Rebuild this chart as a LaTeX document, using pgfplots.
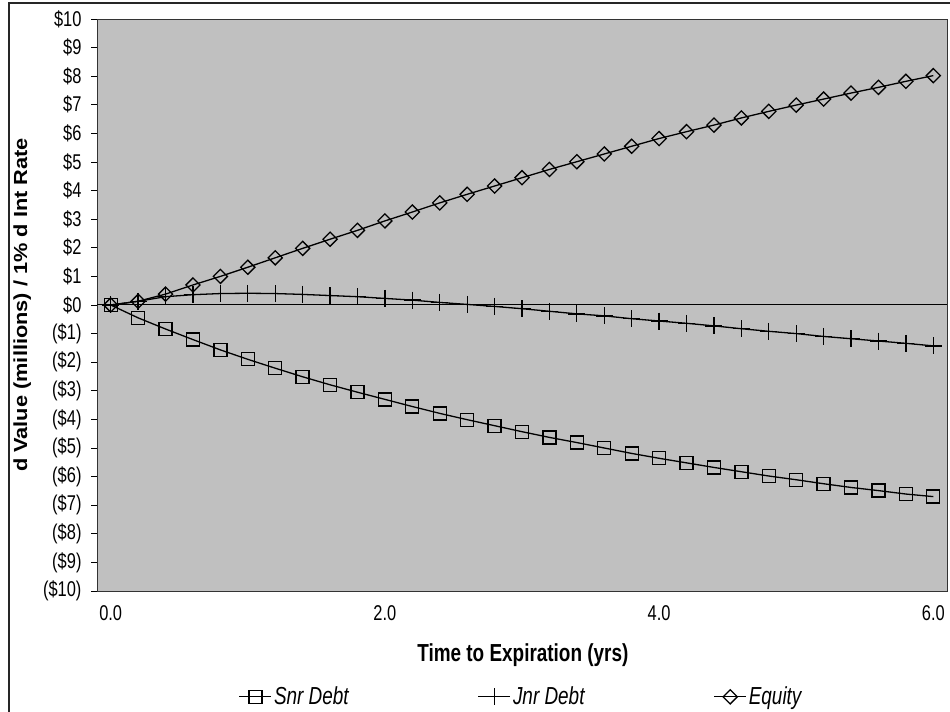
\documentclass[border=0pt]{standalone}
\usepackage{fontspec}
\setmainfont{Liberation Sans}
\usepackage{pgfplots}
\pgfplotsset{compat=1.18}
\definecolor{plotbg}{HTML}{C0C0C0}
\begin{document}
\begin{tikzpicture}[x=1bp,y=1bp]
\useasboundingbox (0,0) rectangle (950,712);
\fill[white] (0,0) rectangle (950,712);
\draw[black!85,line width=1.3bp] (9,-5) -- (9,709) -- (960,709);
\begin{axis}[
  at={(97bp,121bp)}, anchor=south west,
  scale only axis, width=850bp, height=572bp,
  xmin=-0.1, xmax=6.1, ymin=-10, ymax=10,
  axis background/.style={fill=plotbg},
  axis line style={black!80, line width=0.9bp},
  tick align=outside, xtick pos=bottom, ytick pos=left,
  major tick length=6bp,
  tick style={black, line width=0.9bp},
  xtick={0,2,4,6}, xticklabels={0.0,2.0,4.0,6.0},
  xtick style={draw=none},
  extra x ticks={-0.1,0.9,1.9,2.9,3.9,4.9,5.9},
  extra x tick labels={},
  extra x tick style={xtick style={black, line width=0.9bp}},
  ytick={-10,-9,...,10},
  yticklabels={{(\$10)},{(\$9)},{(\$8)},{(\$7)},{(\$6)},{(\$5)},{(\$4)},{(\$3)},{(\$2)},{(\$1)},{\$0},{\$1},{\$2},{\$3},{\$4},{\$5},{\$6},{\$7},{\$8},{\$9},{\$10}},
  ticklabel style={font=\fontsize{16.5}{19}\selectfont, yscale=1.3},
  xticklabel style={yshift=-3bp},
  yticklabel style={xshift=-6bp},
  xlabel={Time to Expiration (yrs)},
  ylabel={d Value (millions) / 1\% d Int Rate},
  label style={font=\bfseries\fontsize{19}{22}\selectfont},
  xlabel style={at={(axis description cs:0.501,-0.112)}, anchor=center, yscale=1.3},
  ylabel style={at={(axis description cs:-0.088,0.5)}, anchor=center, xscale=1.15},
  legend columns=3,
  legend style={at={(axis description cs:0.163,-0.185)}, anchor=west, draw=none, fill=none,
    font=\itshape\fontsize{19}{22}\selectfont,
    nodes={yscale=1.3},
    /tikz/every even column/.append style={column sep=127bp},
    /tikz/every odd column/.append style={column sep=0bp}},
  legend cell align=left,
  legend image code/.code={\draw[mark repeat=2,mark phase=2] plot coordinates {(0bp,0bp) (16bp,0bp) (32bp,0bp)};},
  every axis plot/.append style={black, line width=1.3bp},
]
\draw[black, line width=1bp] (axis cs:-0.1,0) -- (axis cs:6.1,0);
\addplot[mark=square, mark size=6.5bp, mark options={solid, line width=1.3bp, fill=none}] coordinates {
(0,0) (0.2,-0.45) (0.4,-0.84) (0.6,-1.21) (0.8,-1.57) (1.0,-1.90) (1.2,-2.21) (1.4,-2.51) (1.6,-2.79) (1.8,-3.05)
(2.0,-3.30) (2.2,-3.55) (2.4,-3.79) (2.6,-4.01) (2.8,-4.22) (3.0,-4.43) (3.2,-4.63) (3.4,-4.81) (3.6,-5.00) (3.8,-5.19)
(4.0,-5.36) (4.2,-5.52) (4.4,-5.68) (4.6,-5.83) (4.8,-5.98) (5.0,-6.11) (5.2,-6.25) (5.4,-6.38) (5.6,-6.49) (5.8,-6.61) (6.0,-6.70)};
\addlegendentry{Snr Debt}
\addplot[mark=+, mark size=8.5bp, mark options={solid, line width=1.3bp}] coordinates {
(0,0) (0.2,0.13) (0.4,0.29) (0.6,0.36) (0.8,0.40) (1.0,0.41) (1.2,0.40) (1.4,0.37) (1.6,0.33) (1.8,0.29)
(2.0,0.23) (2.2,0.17) (2.4,0.09) (2.6,0.02) (2.8,-0.05) (3.0,-0.13) (3.2,-0.22) (3.4,-0.31) (3.6,-0.38) (3.8,-0.48)
(4.0,-0.56) (4.2,-0.64) (4.4,-0.73) (4.6,-0.83) (4.8,-0.92) (5.0,-1.00) (5.2,-1.10) (5.4,-1.18) (5.6,-1.26) (5.8,-1.34) (6.0,-1.43)};
\addlegendentry{Jnr Debt}
\addplot[mark=square, mark size=5bp, mark options={solid, rotate=45, line width=1.3bp, fill=none}] coordinates {
(0,0) (0.2,0.13) (0.4,0.38) (0.6,0.70) (0.8,1.00) (1.0,1.32) (1.2,1.65) (1.4,1.98) (1.6,2.30) (1.8,2.61)
(2.0,2.94) (2.2,3.25) (2.4,3.57) (2.6,3.87) (2.8,4.16) (3.0,4.45) (3.2,4.74) (3.4,5.01) (3.6,5.28) (3.8,5.55)
(4.0,5.82) (4.2,6.06) (4.4,6.29) (4.6,6.54) (4.8,6.77) (5.0,6.99) (5.2,7.20) (5.4,7.41) (5.6,7.61) (5.8,7.82) (6.0,8.02)};
\addlegendentry{Equity}
\end{axis}
\end{tikzpicture}
\end{document}
